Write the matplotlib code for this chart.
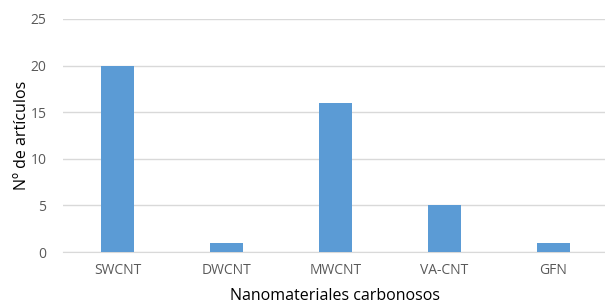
import matplotlib
matplotlib.use('Agg')
import matplotlib.pyplot as plt

categories = ['SWCNT', 'DWCNT', 'MWCNT', 'VA-CNT', 'GFN']
articles = [20, 1, 16, 5, 1]
yticks = [0, 5, 10, 15, 20, 25]

plt.rcParams['font.family'] = ['Open Sans', 'DejaVu Sans']
text_color = '#595959'

fig = plt.figure(figsize=(6.05, 3.06), dpi=100)
ax = fig.add_axes([63 / 605, 1 - 252 / 306, 545 / 605, (252 - 19) / 306])

x = list(range(len(categories)))
ax.bar(x, articles, width=0.31, color='#5B9BD5', zorder=3)

ax.set_xlim(-0.5, len(categories) - 0.5)
ax.set_ylim(0, 25)
ax.set_yticks(yticks)
ax.set_xticks(x)
ax.set_xticklabels(categories)
ax.yaxis.grid(True, color='#D9D9D9', linewidth=1, zorder=0)
for s in ['top', 'right', 'left']:
    ax.spines[s].set_visible(False)
ax.spines['bottom'].set_color('#D9D9D9')
ax.tick_params(axis='both', length=0, colors=text_color, labelsize=10)
ax.tick_params(axis='x', pad=8)
ax.tick_params(axis='y', pad=12)
ax.set_xlabel('Nanomateriales carbonosos', fontsize=11.5, color='#000000', labelpad=7)
ax.set_ylabel('Nº de artículos', fontsize=11.5, color='#000000', labelpad=0)

fig.savefig('out.png', dpi=100)
